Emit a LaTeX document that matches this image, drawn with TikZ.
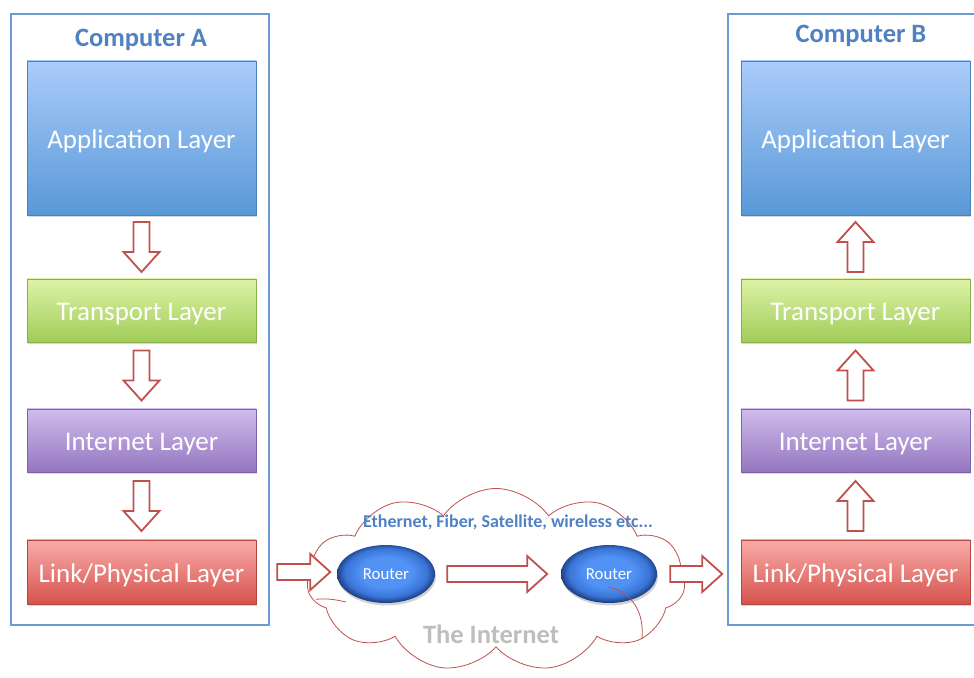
\documentclass[tikz,border=0pt]{standalone}
\usepackage{fontspec}
\setmainfont{Carlito}
\usetikzlibrary{shapes.geometric,shapes.symbols,shadows,calc}

\definecolor{frameblue}{RGB}{108,155,210}
\definecolor{titleblue}{RGB}{79,129,195}
\definecolor{appTop}{RGB}{170,204,250}
\definecolor{appBot}{RGB}{88,152,215}
\definecolor{trTop}{RGB}{222,243,168}
\definecolor{trBot}{RGB}{160,204,88}
\definecolor{inTop}{RGB}{208,188,236}
\definecolor{inBot}{RGB}{148,118,192}
\definecolor{lkTop}{RGB}{249,172,170}
\definecolor{lkBot}{RGB}{214,82,76}
\definecolor{arrowred}{RGB}{192,80,77}
\definecolor{cloudgray}{RGB}{190,190,190}
\definecolor{rtA}{RGB}{82,146,245}
\definecolor{rtB}{RGB}{58,116,215}
\definecolor{rtC}{RGB}{26,56,118}

% bright centre, darker rim: the path's box spans -25bp..25bp
\pgfdeclareradialshading{routershade}{\pgfpoint{0bp}{2bp}}{color(0bp)=(rtA); color(13bp)=(rtA); color(21bp)=(rtB); color(26bp)=(rtC); color(50bp)=(rtC)}

\tikzset{
  frame/.style={draw=frameblue, line width=2, fill=none},
  title/.style={text=titleblue, font=\fontsize{26.5}{30}\selectfont\bfseries},
  layer/.style={minimum width=229, text=white, font=\fontsize{27}{31}\selectfont,
    text height=26pt, text depth=5pt,
    top color=#1Top, bottom color=#1Bot, draw=#1Bot!85!black, line width=0.6,
    drop shadow={opacity=0.3, shadow xshift=0.5, shadow yshift=-2}},
  router/.style={ellipse, minimum width=98, minimum height=58, inner sep=0,
    shading=routershade, text=white, font=\fontsize{16.8}{19}\selectfont,
    drop shadow={opacity=0.35, shadow xshift=1, shadow yshift=-2.5}},
  arrowline/.style={draw=arrowred, line width=1.8, fill=white, line join=miter},
  pics/hollowarrow/.style={code={
    \draw[arrowline] (0,-8) -- ({#1-20},-8) -- ({#1-20},-18) -- (#1,0)
      -- ({#1-20},18) -- ({#1-20},8) -- (0,8) -- cycle;}},
  cloudline/.style={draw=arrowred, line width=0.8},
}

\begin{document}
\begin{tikzpicture}[x=1pt, y=1pt]
\clip (0,0) rectangle (974,677);
\fill[white] (0,0) rectangle (974,677);

% computer frames
\node[frame, minimum width=258, minimum height=611] (frameA) at (140,357.5) {};
\node[frame, minimum width=252, minimum height=611] (frameB) at (854,357.5) {};
\node[title] (titleA) at (141,637) {Computer A};
\node[title] (titleB) at (861,641) {Computer B};

% protocol stack of computer A
\node[layer=app, minimum height=154] (appA)   at (141.5,539)   {Application Layer};
\node[layer=tr,  minimum height=63]  (transA) at (141.5,366.5) {Transport Layer};
\node[layer=in,  minimum height=63]  (interA) at (141.5,236.5) {Internet Layer};
\node[layer=lk,  minimum height=64]  (linkA)  at (141.5,105)   {Link/Physical Layer};

% protocol stack of computer B
\node[layer=app, minimum height=154] (appB)   at (855.5,539)   {Application Layer};
\node[layer=tr,  minimum height=63]  (transB) at (855.5,366.5) {Transport Layer};
\node[layer=in,  minimum height=63]  (interB) at (855.5,236.5) {Internet Layer};
\node[layer=lk,  minimum height=64]  (linkB)  at (855.5,105)   {Link/Physical Layer};

% downward flow in A
\pic[rotate=-90] at ($(appA.south)!0.5!(transA.north)+(0,25)$) {hollowarrow=50};
\pic[rotate=-90] at ($(transA.south)!0.5!(interA.north)+(0,25)$) {hollowarrow=50};
\pic[rotate=-90] at ($(interA.south)!0.5!(linkA.north)+(0,25)$) {hollowarrow=50};

% upward flow in B
\pic[rotate=90] at ($(linkB.north)!0.5!(interB.south)+(0,-25)$) {hollowarrow=50};
\pic[rotate=90] at ($(interB.north)!0.5!(transB.south)+(0,-25)$) {hollowarrow=50};
\pic[rotate=90] at ($(transB.north)!0.5!(appB.south)+(0,-25)$) {hollowarrow=50};

% the internet cloud
\node[cloud, cloud puffs=11, cloud puff arc=110, aspect=2.1, cloudline, fill=white,
  minimum width=378, minimum height=183] (cloud) at (496,97) {};
% inner puff edge on the left
\draw[cloudline] ([xshift=4]cloud.186) .. controls (328,79) and (337,77) .. (346,75);
\node[text=titleblue, font=\fontsize{18}{21}\selectfont\bfseries] (media) at (508,155)
  {Ethernet, Fiber, Satellite, wireless etc...};
\node[text=cloudgray, font=\fontsize{26.5}{30}\selectfont\bfseries] (inet) at (491,43) {The Internet};

\node[router] (r1) at (386,103) {Router};
\node[router, minimum width=96] (r2) at (609,103) {Router};
% inner puff edge running over the second router
\draw[cloudline] (608,90) .. controls (625,87) and (645,72) .. (cloud.-22);

% horizontal flow
\pic at ([xshift=21]linkA.east) {hollowarrow=53};
\pic at ([xshift=12]r1.east) {hollowarrow=100};
\pic at ([xshift=13]r2.east) {hollowarrow=52};
\end{tikzpicture}
\end{document}
